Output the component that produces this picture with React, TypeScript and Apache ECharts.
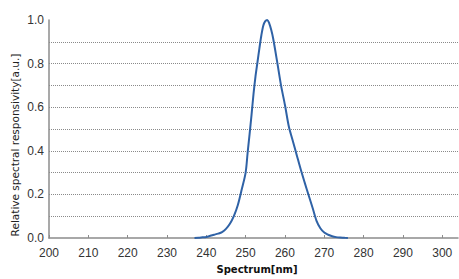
import React, { useEffect, useRef } from "react";
import * as echarts from "echarts";

const wavelengths = [
  237, 238, 239, 240, 241, 242, 243, 244, 245, 246, 247, 248, 249, 250, 250.5,
  251, 251.5, 252, 252.5, 253, 253.5, 254, 254.5, 255, 255.5, 256, 256.5, 257,
  258, 259, 260, 261, 262, 263, 264, 265, 266, 267, 268, 269, 270, 271, 272,
  273, 274, 275, 276,
];
const responsivity = [
  0, 0.001, 0.003, 0.005, 0.01, 0.015, 0.02, 0.027, 0.042, 0.065, 0.1, 0.15,
  0.222, 0.3, 0.39, 0.475, 0.565, 0.66, 0.74, 0.805, 0.87, 0.93, 0.975, 0.995,
  1.0, 0.985, 0.955, 0.915, 0.81, 0.7, 0.61, 0.51, 0.445, 0.38, 0.315, 0.255,
  0.197, 0.14, 0.08, 0.045, 0.025, 0.015, 0.008, 0.004, 0.002, 0.001, 0,
];
const xTicks = [200, 210, 220, 230, 240, 250, 260, 270, 280, 290, 300];
const yTicks = [0, 0.2, 0.4, 0.6, 0.8, 1.0];
const xName = "Spectrum[nm]";
const yName = "Relative spectral responsivity[a.u.]";

export default function App() {
  const ref = useRef<HTMLDivElement>(null);
  useEffect(() => {
    if (!ref.current) return;
    const chart = echarts.init(ref.current, null, { renderer: "svg" });
    const data = wavelengths.map((w, i) => [w, responsivity[i]]);
    chart.setOption({
      animation: false,
      grid: { left: 49, right: 1, top: 20, bottom: 39, containLabel: false },
      xAxis: {
        type: "value",
        min: 200,
        max: 304,
        interval: 10,
        name: xName,
        nameLocation: "middle",
        nameGap: 26,
        nameTextStyle: {
          fontFamily: "DejaVu Sans",
          fontWeight: "bold",
          fontSize: 10,
          color: "#111",
          padding: [0, 0, 0, 7],
        },
        axisLine: { show: true, lineStyle: { color: "#8c8c8c", width: 1.5 } },
        axisTick: {
          show: true,
          inside: true,
          length: 3,
          customValues: xTicks,
          lineStyle: { color: "#8c8c8c", width: 1 },
        },
        axisLabel: {
          customValues: xTicks,
          margin: 9,
          fontFamily: "Liberation Sans",
          fontSize: 12,
          color: "#333",
        },
        splitLine: { show: false },
      },
      yAxis: {
        type: "value",
        min: 0,
        max: 1,
        interval: 0.1,
        axisLine: { show: true, lineStyle: { color: "#8c8c8c", width: 1.5 } },
        axisTick: { show: false },
        axisLabel: {
          customValues: yTicks,
          formatter: (v: number) => v.toFixed(1),
          margin: 5,
          fontFamily: "Liberation Sans",
          fontSize: 12,
          color: "#333",
        },
        splitLine: {
          show: true,
          showMinLine: false,
          showMaxLine: false,
          lineStyle: { color: "#8a8a8a", type: [1, 1], width: 1 },
        },
      },
      graphic: [
        {
          type: "text",
          x: 15,
          y: 145,
          rotation: Math.PI / 2,
          style: {
            text: yName,
            fontFamily: "DejaVu Sans",
            fontSize: 10.5,
            fill: "#222",
            textAlign: "center",
            textVerticalAlign: "middle",
          },
        },
      ],
      series: [
        {
          type: "line",
          data,
          smooth: 0.3,
          showSymbol: false,
          lineStyle: { color: "#2f62a6", width: 2 },
        },
      ],
    });
    return () => chart.dispose();
  }, []);
  return (
    <div
      ref={ref}
      style={{ position: "fixed", left: 0, top: 0, width: 459, height: 279, background: "#fff" }}
    />
  );
}
